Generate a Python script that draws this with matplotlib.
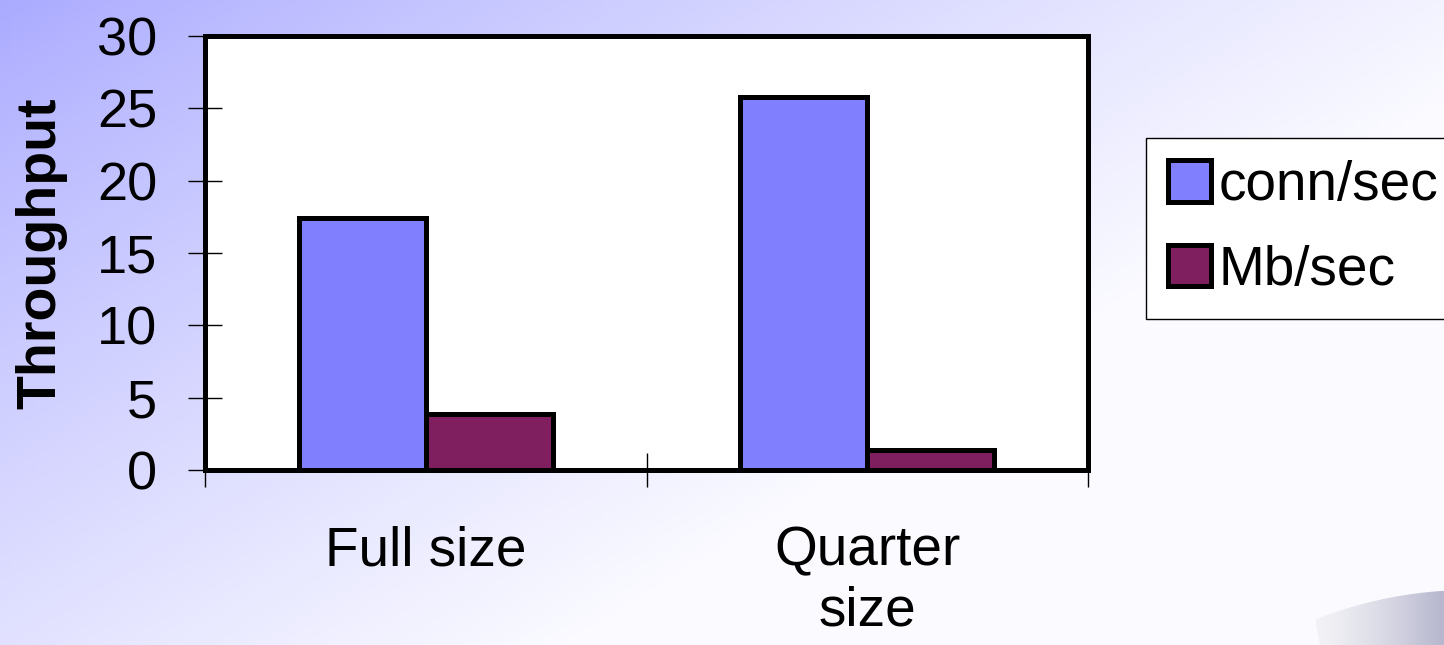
import numpy as np
import matplotlib.pyplot as plt
from matplotlib.patches import Polygon

plt.rcParams['font.family'] = ['Liberation Sans', 'DejaVu Sans']

# data
categories = ['Full size', 'Quarter\nsize']
series = ['conn/sec', 'Mb/sec']
conn_sec = [17.4, 25.8]
mb_sec = [3.9, 1.4]
colors = ['#8080ff', '#7f1f5f']
y_ticks = [0, 5, 10, 15, 20, 25, 30]

fig = plt.figure(figsize=(14.44, 6.45), dpi=100)

# slide-style gradient background
bg = fig.add_axes([0, 0, 1, 1], zorder=-10)
xx, yy = np.meshgrid(np.linspace(0, 1, 300), np.linspace(0, 1, 150))
t = np.clip(0.9 * xx + 0.65 * yy, 0, 1) ** 0.85
c0 = np.array([170, 170, 255]) / 255
c1 = np.array([250, 250, 255]) / 255
img = c0[None, None, :] * (1 - t[..., None]) + c1[None, None, :] * t[..., None]
bg.imshow(img, aspect='auto', extent=[0, 1444, 645, 0])

# corner decoration: curved grey band
ang = np.linspace(np.pi * 0.62, np.pi * 0.5, 30)
outer = np.c_[1470 + 420 * np.cos(ang), 1010 - 420 * np.sin(ang)]
deco = Polygon(np.r_[outer, [[1444, 645], [1320, 645]]], closed=True,
               facecolor='none', edgecolor='none')
bg.add_patch(deco)
gx = np.linspace(0, 1, 100)[None, :] ** 1.5
grad = np.array([245, 245, 248]) / 255 * (1 - gx[..., None]) + np.array([182, 182, 206]) / 255 * gx[..., None]
gim = bg.imshow(np.repeat(grad, 2, axis=0), aspect='auto', extent=[1300, 1444, 645, 590])
gim.set_clip_path(deco)
bg.set_xlim(0, 1444)
bg.set_ylim(645, 0)
bg.axis('off')

ax = fig.add_axes([0.142, 0.2713, 0.6115, 0.6729])
ax.set_facecolor('white')

x = np.arange(len(categories))
w = 0.288
ax.bar(x - w / 2, conn_sec, w, color=colors[0], edgecolor='black',
       linewidth=3.6, label=series[0], zorder=3)
ax.bar(x + w / 2, mb_sec, w, color=colors[1], edgecolor='black',
       linewidth=3.6, label=series[1], zorder=3)

ax.set_xlim(-0.5, 1.5)
ax.set_ylim(0, 30)
ax.set_yticks(y_ticks)
ax.tick_params(axis='y', labelsize=39, direction='inout', length=25, width=1, pad=22)

ax.set_xticks([-0.5, 0.5, 1.5])
ax.set_xticklabels([])
ax.set_xticks(x, minor=True)
ax.set_xticklabels(categories, minor=True, fontsize=39.5)
ax.tick_params(axis='x', which='major', direction='inout', length=25, width=1)
ax.tick_params(axis='x', which='minor', length=0, pad=40)

for s in ax.spines.values():
    s.set_linewidth(3.6)
    s.set_color('black')
    s.set_zorder(5)

ax.set_ylabel('Throughput', fontsize=40, fontweight='bold', labelpad=21)

leg = ax.legend(loc='upper left', bbox_to_anchor=(0.7936, 0.786),
                bbox_transform=fig.transFigure, fontsize=39.5, frameon=True,
                fancybox=False, edgecolor='black', framealpha=1,
                handlelength=0.78, handleheight=0.78, handletextpad=0.15,
                labelspacing=0.6, borderpad=0.4, borderaxespad=0)
leg.get_frame().set_linewidth(1)

fig.savefig('out.png', dpi=100)
